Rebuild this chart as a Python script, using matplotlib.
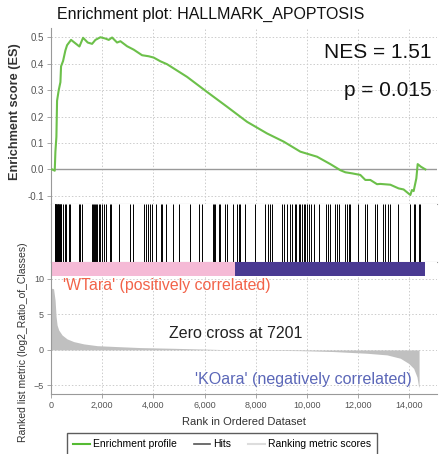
import matplotlib
matplotlib.use('Agg')
from matplotlib import pyplot as plt
from matplotlib.lines import Line2D

plt.rcParams['font.family'] = ['Liberation Sans', 'DejaVu Sans']

es_rank = [40, 146, 172, 211, 237, 302, 368, 393, 471, 562, 628, 784, 914, 1110, 1253,
           1435, 1605, 1735, 1930, 2126, 2256, 2386, 2581, 2712, 2972, 3232, 3558, 3819,
           4014, 4274, 4534, 5316, 6097, 6878, 7659, 8440, 9091, 9742, 10393, 10913,
           11303, 11499, 11760, 12084, 12281, 12475, 12737, 12866, 13257, 13581, 13776,
           14039, 14101, 14168, 14273, 14325, 14452, 14625]
es_val = [0.0, -0.005, 0.067, 0.123, 0.26, 0.30, 0.33, 0.39, 0.41, 0.45, 0.47, 0.49, 0.48,
          0.465, 0.498, 0.48, 0.475, 0.49, 0.50, 0.495, 0.49, 0.499, 0.48, 0.485, 0.466,
          0.453, 0.432, 0.428, 0.423, 0.409, 0.398, 0.35, 0.293, 0.237, 0.18, 0.136, 0.105,
          0.067, 0.048, 0.02, -0.003, -0.011, -0.015, -0.021, -0.04, -0.04, -0.056, -0.055,
          -0.058, -0.072, -0.076, -0.097, -0.078, -0.082, -0.034, 0.02, 0.01, 0.0]

# positions of gene set members in the ranked list
hits = [140, 150, 160, 172, 185, 198, 212, 225, 240, 255, 270, 290, 305, 325, 340, 360,
        380, 400, 470, 536, 601, 693, 745, 1096, 1150, 1215, 1620, 1650, 1685, 1737,
        1770, 1802, 1867, 1920, 1998, 2076, 2167, 2298, 2363, 2650, 3080, 3210, 3640,
        3695, 3773, 3863, 3954, 4098, 4293, 4345, 4476, 4750, 5015, 5445, 5770, 5900,
        6316, 6370, 6421, 6550, 6617, 6785, 6878, 7097, 7270, 7333, 7398, 7566, 7984,
        8374, 8480, 8570, 8636, 9027, 9090, 9220, 9351, 9417, 9519, 9574, 9676, 9742,
        9808, 9871, 9937, 10003, 10066, 10171, 10262, 10456, 10745, 10823, 10913, 11083,
        11175, 11238, 11499, 11565, 11630, 11695, 11996, 12281, 12347, 12671, 12737,
        12956, 13062, 13167, 13257, 13558, 14039, 14168, 14234, 14363, 14430]

# ranking metric (log2 ratio) along the list
metric_rank = [0, 100, 160, 199, 238, 302, 433, 628, 888, 1278, 1800, 2582, 3492, 4793,
               6000, 7201, 8500, 9742, 11043, 12346, 13128, 13648, 13973, 14168, 14298,
               14363, 14380]
metric_val = [8.7, 8.6, 7.0, 4.7, 3.5, 2.8, 2.1, 1.55, 1.17, 0.85, 0.6, 0.47, 0.33, 0.23,
              0.12, 0.0, -0.05, -0.1, -0.23, -0.47, -0.7, -1.17, -1.9, -2.6, -3.8, -5.2, -5.2]

n_genes = 14600
zero_cross = 7201
nes = 1.51
pval = 0.015

W, H = 440, 454
fig = plt.figure(figsize=(W / 100, H / 100), dpi=100)
fig.patch.set_facecolor('white')

def box(top, bottom, left=51, right=437):
    return [left / W, 1 - bottom / H, (right - left) / W, (bottom - top) / H]

xmax = 15080
grid_kw = dict(color='#cccccc', linestyle=(0, (1.5, 2)), linewidth=0.7)
spine_c = '#999999'
tick_c = '#555555'

# enrichment score panel
ax1 = fig.add_axes(box(28, 204))
ax1.plot(es_rank, es_val, color='#6cc04a', linewidth=1.5, zorder=3)
ax1.axhline(0, color='#999999', linewidth=1.0, zorder=2)
ax1.set_xlim(0, xmax)
ax1.set_ylim(-0.131, 0.535)
ax1.set_yticks([-0.1, 0.0, 0.1, 0.2, 0.3, 0.4, 0.5])
ax1.set_yticklabels(['-0.1', '0.0', '0.1', '0.2', '0.3', '0.4', '0.5'])
ax1.set_xticks(range(2000, 15000, 2000))
ax1.tick_params(axis='x', length=0, labelbottom=False)
ax1.tick_params(axis='y', length=3, width=0.6, color=spine_c, labelsize=7, labelcolor=tick_c, pad=2)
ax1.grid(True, **grid_kw)
ax1.set_axisbelow(True)
for s in ['top', 'right']:
    ax1.spines[s].set_visible(False)
for s in ['left', 'bottom']:
    ax1.spines[s].set_color(spine_c)
    ax1.spines[s].set_linewidth(0.8)
ax1.text(0.985, 0.86, 'NES = %.2f' % nes, transform=ax1.transAxes, ha='right', va='center',
         fontsize=15, color='#111111')
ax1.text(0.985, 0.645, 'p = %.3f' % pval, transform=ax1.transAxes, ha='right', va='center',
         fontsize=15, color='#111111')

# hits panel
ax2 = fig.add_axes(box(204, 262))
ax2.vlines(hits, 0, 1, color='black', linewidth=0.7)
ax2.set_xlim(0, xmax)
ax2.set_ylim(0, 1)
ax2.set_xticks([])
ax2.set_yticks([])
for s in ['top', 'right']:
    ax2.spines[s].set_visible(False)
for s in ['left', 'bottom']:
    ax2.spines[s].set_color(spine_c)
    ax2.spines[s].set_linewidth(0.8)

# class colour bar
ax3 = fig.add_axes(box(262, 276))
ax3.barh(0, zero_cross, left=0, height=1, color='#f5bad6', linewidth=0)
ax3.barh(0, n_genes - zero_cross, left=zero_cross, height=1, color='#4a3a92', linewidth=0)
ax3.set_xlim(0, xmax)
ax3.set_ylim(-0.5, 0.5)
ax3.set_xticks([])
ax3.set_yticks([])
for s in ['top', 'right', 'bottom']:
    ax3.spines[s].set_visible(False)
ax3.spines['left'].set_color(spine_c)
ax3.spines['left'].set_linewidth(0.8)

# ranked list metric panel
ax4 = fig.add_axes(box(276, 394))
ax4.fill_between(metric_rank, 0, metric_val, color='#c0c0c0', linewidth=0, zorder=2)
ax4.set_xlim(0, xmax)
ax4.set_ylim(-6.2, 10.4)
ax4.set_yticks([-5, 0, 5, 10])
ax4.set_xticks(range(0, 15000, 2000))
ax4.set_xticklabels(['0', '2,000', '4,000', '6,000', '8,000', '10,000', '12,000', '14,000'])
ax4.tick_params(length=3, width=0.6, color=spine_c, labelsize=6.5, labelcolor=tick_c, pad=2)
ax4.grid(True, **grid_kw)
ax4.set_axisbelow(True)
for s in ['top', 'right']:
    ax4.spines[s].set_visible(False)
for s in ['left', 'bottom']:
    ax4.spines[s].set_color(spine_c)
    ax4.spines[s].set_linewidth(0.8)
ax4.set_xlabel('Rank in Ordered Dataset', fontsize=8, color='#333333', labelpad=5)
ax4.text(450, 9.0, "'WTara' (positively correlated)", fontsize=11.4, color='#f26349',
         ha='left', va='center')
ax4.text(zero_cross, 2.3, 'Zero cross at %d' % zero_cross, fontsize=11.5, color='#222222',
         ha='center', va='center')
ax4.text(14100, -4.2, "'KOara' (negatively correlated)", fontsize=11.6, color='#5b67b8',
         ha='right', va='center')

fig.text(57 / W, 1 - 14 / H, 'Enrichment plot: HALLMARK_APOPTOSIS', fontsize=11.5,
         ha='left', va='center', color='#111111')
fig.text(15 / W, 1 - 112 / H, 'Enrichment score (ES)', fontsize=9.2, fontweight='bold',
         rotation=90, ha='center', va='center', color='#333333')
fig.text(23 / W, 1 - 342 / H, 'Ranked list metric (log2_Ratio_of_Classes)', fontsize=7.5,
         rotation=90, ha='center', va='center', color='#333333')

handles = [Line2D([], [], color='#55bb33', linewidth=1.5),
           Line2D([], [], color='#555555', linewidth=1.2),
           Line2D([], [], color='#dddddd', linewidth=1.5)]
leg = fig.legend(handles, ['Enrichment profile', 'Hits', 'Ranking metric scores'],
                 loc='upper left', bbox_to_anchor=(67 / W, 1 - 433 / H), ncol=3,
                 fontsize=7.5, frameon=True, fancybox=False, handlelength=1.6,
                 handletextpad=0.3, columnspacing=1.6, borderpad=0.6, borderaxespad=0)
leg.get_frame().set_edgecolor('#333333')
leg.get_frame().set_linewidth(1.0)

plt.savefig('out.png', dpi=100)
